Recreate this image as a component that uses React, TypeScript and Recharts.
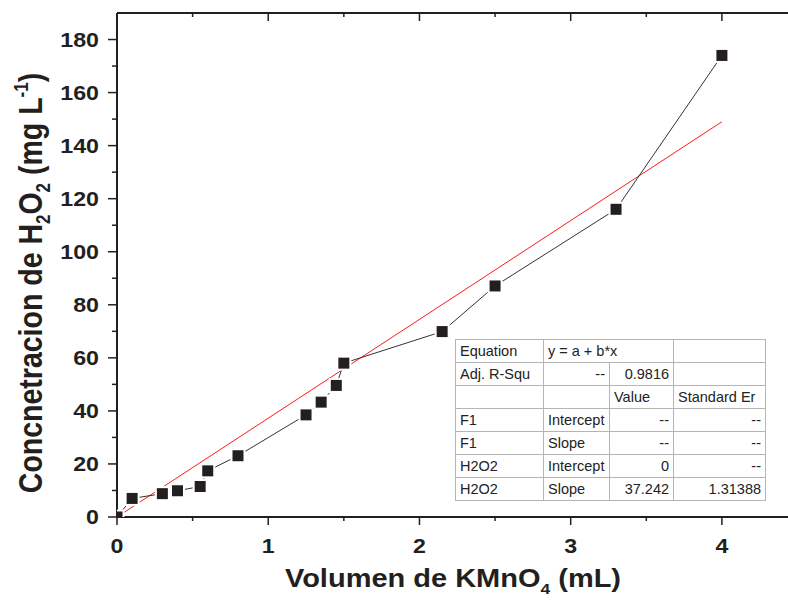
import React from 'react';
import { ComposedChart, Line, XAxis, YAxis } from 'recharts';

// Measured points (KMnO4 volume in mL vs H2O2 concentration in mg/L)
const volume = [0, 0.1, 0.3, 0.4, 0.55, 0.6, 0.8, 1.25, 1.35, 1.45, 1.5, 2.15, 2.5, 3.3, 4.0];
const concentration = [0, 7.0, 8.8, 9.9, 11.5, 17.4, 23.1, 38.5, 43.3, 49.6, 58.0, 69.9, 87.1, 116.0, 174.0];

// Linear fit end points
const fitVolume = [0, 4];
const fitConcentration = [0, 149.0];

// Axis ticks (majors get labels)
const xTicks = [0, 0.5, 1, 1.5, 2, 2.5, 3, 3.5, 4];
const yTicks = [0, 10, 20, 30, 40, 50, 60, 70, 80, 90, 100, 110, 120, 130, 140, 150, 160, 170, 180];

// Fit result table
const tableRows: string[][] = [
  ['Equation', 'y = a + b*x', '', ''],
  ['Adj. R-Squ', '--', '0.9816', ''],
  ['', '', 'Value', 'Standard Er'],
  ['F1', 'Intercept', '--', '--'],
  ['F1', 'Slope', '--', '--'],
  ['H2O2', 'Intercept', '0', '--'],
  ['H2O2', 'Slope', '37.242', '1.31388'],
];
const colWidths = [88, 66, 64, 92];

const pointData = volume.map((x, i) => ({ x, y: concentration[i] }));
const fitData = fitVolume.map((x, i) => ({ x, y: fitConcentration[i] }));

const INK = '#231f20';
const FONT = '"Liberation Sans", Arial, Helvetica, sans-serif';
const STRETCH = 1.16;

const BottomTick = (props: any) => {
  const { x, y, payload } = props;
  const major = Number.isInteger(payload.value);
  return (
    <g>
      <line x1={x} y1={y} x2={x} y2={y + (major ? 8 : 4)} stroke={INK} strokeWidth={1.5} />
      {major && (
        <text
          transform={`translate(${x},${y + 36}) scale(${STRETCH},1)`}
          textAnchor="middle"
          fontSize={20}
          fontWeight="bold"
          fontFamily={FONT}
          fill={INK}
        >
          {payload.value}
        </text>
      )}
    </g>
  );
};

// top frame ticks point into the plot
const TopTick = (props: any) => {
  const { x, y, payload } = props;
  const major = Number.isInteger(payload.value);
  return <line x1={x} y1={y} x2={x} y2={y + (major ? 8 : 4)} stroke={INK} strokeWidth={1.5} />;
};

const LeftTick = (props: any) => {
  const { x, y, payload } = props;
  const major = payload.value % 20 === 0;
  return (
    <g>
      <line x1={x} y1={y} x2={x - (major ? 9 : 5)} y2={y} stroke={INK} strokeWidth={1.5} />
      {major && (
        <text
          transform={`translate(${x - 18},${y + 7}) scale(${STRETCH},1)`}
          textAnchor="end"
          fontSize={20}
          fontWeight="bold"
          fontFamily={FONT}
          fill={INK}
        >
          {payload.value}
        </text>
      )}
    </g>
  );
};

const SquareDot = (props: any) => {
  const { cx, cy, index } = props;
  return (
    <rect
      key={`sq-${index}`}
      x={cx - 6.5}
      y={cy - 6.5}
      width={13}
      height={13}
      fill={INK}
      stroke="#fff"
      strokeWidth={2}
    />
  );
};

const XTitle = () => (
  <text
    transform={`translate(453,587) scale(${STRETCH},1)`}
    textAnchor="middle"
    fontSize={25}
    fontWeight="bold"
    fontFamily={FONT}
    fill={INK}
  >
    Volumen de KMnO
    <tspan fontSize={15} dy={7}>4</tspan>
    <tspan dy={-7}> (mL)</tspan>
  </text>
);

const YTitle = () => (
  <text
    transform={`translate(42,283) scale(${STRETCH},1) rotate(-90)`}
    textAnchor="middle"
    fontSize={28.5}
    fontWeight="bold"
    fontFamily={FONT}
    fill={INK}
  >
    Concnetracion de H
    <tspan fontSize={17} dy={7}>2</tspan>
    <tspan dy={-7}>O</tspan>
    <tspan fontSize={17} dy={7}>2</tspan>
    <tspan dy={-7}> (mg L</tspan>
    <tspan fontSize={17} dy={-12}>-1</tspan>
    <tspan dy={12}>)</tspan>
  </text>
);

const cellAlign = (row: number, col: number, text: string) => {
  if (col === 0) return 'left';
  if (row === 0) return 'left';
  if (text === '--') return 'right';
  if (col === 1) return 'left';
  if (text === 'Value' || text === 'Standard Er') return 'left';
  return 'right';
};

function cellStyle(align: string): React.CSSProperties {
  return {
    border: '1px solid #b5b5b5',
    padding: '0 4px',
    textAlign: align as any,
    whiteSpace: 'nowrap',
    overflow: 'hidden',
    lineHeight: '21px',
  };
}

const FitTable = () => (
  <table
    style={{
      position: 'absolute',
      left: 455,
      top: 339,
      borderCollapse: 'collapse',
      tableLayout: 'fixed',
      width: 310,
      fontFamily: FONT,
      fontSize: 14.5,
      color: '#222',
      background: '#fff',
      border: '1.5px solid #666',
    }}
  >
    <colgroup>
      {colWidths.map((w, i) => (
        <col key={i} style={{ width: w }} />
      ))}
    </colgroup>
    <tbody>
      {tableRows.map((row, r) => (
        <tr key={r} style={{ height: 23 }}>
          {r === 0 ? (
            <>
              <td style={cellStyle('left')}>{row[0]}</td>
              <td colSpan={2} style={cellStyle('left')}>{row[1]}</td>
              <td style={cellStyle('left')}>{row[3]}</td>
            </>
          ) : (
            row.map((text, c) => (
              <td key={c} style={cellStyle(cellAlign(r, c, text))}>
                {text}
              </td>
            ))
          )}
        </tr>
      ))}
    </tbody>
  </table>
);

const App: React.FC = () => {
  return (
    <div
      style={{
        position: 'absolute',
        left: 0,
        top: 0,
        width: 788,
        height: 608,
        background: '#fff',
        overflow: 'hidden',
      }}
    >
      <ComposedChart width={788} height={608} margin={{ top: 12, right: 0, bottom: 0, left: 0 }}>
        <XAxis
          xAxisId="bottom"
          dataKey="x"
          type="number"
          domain={[0, 4.437]}
          allowDataOverflow
          ticks={xTicks}
          interval={0}
          height={91}
          tickSize={0}
          tickMargin={0}
          tick={<BottomTick />}
          axisLine={{ stroke: INK, strokeWidth: 2 }}
          label={() => <XTitle />}
        />
        <XAxis
          xAxisId="top"
          orientation="top"
          dataKey="x"
          type="number"
          domain={[0, 4.437]}
          allowDataOverflow
          ticks={xTicks}
          interval={0}
          height={1}
          tickSize={0}
          tickMargin={0}
          tick={<TopTick />}
          axisLine={{ stroke: INK, strokeWidth: 2 }}
        />
        <YAxis
          dataKey="y"
          type="number"
          domain={[0, 190]}
          allowDataOverflow
          ticks={yTicks}
          interval={0}
          width={117}
          tickSize={0}
          tickMargin={0}
          tick={<LeftTick />}
          axisLine={{ stroke: INK, strokeWidth: 2 }}
          label={() => <YTitle />}
        />
        <Line
          xAxisId="top"
          data={fitData}
          dataKey="y"
          stroke="#ff1a1a"
          strokeWidth={1}
          dot={false}
          isAnimationActive={false}
        />
        <Line
          xAxisId="bottom"
          data={pointData}
          dataKey="y"
          stroke="#333"
          strokeWidth={1}
          dot={<SquareDot />}
          isAnimationActive={false}
        />
      </ComposedChart>
      <FitTable />
    </div>
  );
};

export default App;
